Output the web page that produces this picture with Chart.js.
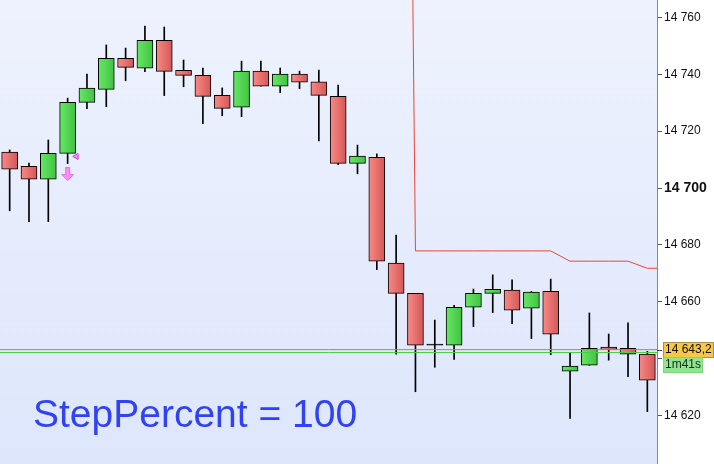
<!DOCTYPE html>
<html>
<head>
<meta charset="utf-8">
<title>StepPercent</title>
<script src="https://cdn.jsdelivr.net/npm/chart.js@4.4.1/dist/chart.umd.min.js"></script>
<style>
    html, body { margin: 0; padding: 0; background: #ffffff; }
    #wrap { width: 714px; height: 464px; }
</style>
</head>
<body>
<div id="wrap"><canvas id="chart" width="714" height="464"></canvas></div>
<script>
// OHLC per candle
const opens  = [14712.6, 14707.6, 14703.1, 14712.2, 14730.1, 14734.7, 14745.6, 14742.1, 14751.9, 14741.4,
                14739.6, 14732.6, 14728.4, 14741.1, 14735.8, 14740.1, 14737.3, 14732.2, 14708.7, 14710.8,
                14673.6, 14663.0, 14644.8, 14644.8, 14658.1, 14663.0, 14664.1, 14657.8, 14663.7, 14635.6,
                14637.7, 14644.1, 14643.7, 14641.6];
const highs  = [14713.4, 14708.8, 14716.9, 14731.6, 14740.1, 14750.3, 14749.2, 14756.9, 14756.6, 14745.0,
                14742.2, 14735.2, 14744.6, 14744.6, 14742.2, 14741.1, 14741.5, 14736.2, 14715.1, 14712.0,
                14683.5, 14663.0, 14653.6, 14658.8, 14664.5, 14669.5, 14667.7, 14663.7, 14668.0, 14642.2,
                14656.1, 14648.7, 14652.6, 14642.6];
const lows   = [14692.0, 14688.2, 14688.2, 14708.6, 14727.9, 14728.6, 14737.7, 14740.9, 14732.5, 14735.6,
                14722.6, 14725.4, 14725.1, 14735.8, 14733.5, 14734.9, 14716.6, 14708.2, 14705.0, 14671.3,
                14641.6, 14628.4, 14637.0, 14639.8, 14651.3, 14656.2, 14652.3, 14647.1, 14641.4, 14619.0,
                14637.7, 14639.5, 14633.7, 14621.4];
const closes = [14706.6, 14703.1, 14712.2, 14730.1, 14735.1, 14745.6, 14742.4, 14751.9, 14741.0, 14739.6,
                14732.2, 14728.0, 14741.1, 14735.8, 14740.1, 14737.2, 14732.6, 14708.7, 14711.2, 14674.3,
                14663.0, 14644.8, 14644.8, 14658.1, 14663.0, 14664.4, 14657.1, 14663.4, 14648.6, 14637.4,
                14643.7, 14643.3, 14641.6, 14632.5];

// trailing stop level (off the top of the chart before candle 21)
const stopLevels = [null, null, null, null, null, null, null, null, null, null,
                    null, null, null, null, null, null, null, null, null, null,
                    15330, 14677.9, 14677.9, 14677.9, 14677.9, 14677.9, 14677.9, 14677.9, 14677.9, 14674.3,
                    14674.3, 14674.3, 14674.3, 14671.8];

const yTicks = [14620, 14640, 14660, 14680, 14700, 14720, 14740, 14760];
const yMin = 14603, yMax = 14766.1;
const lastPrice = 14643.2;
const askPrice = 14642.2;
const countdown = '1m41s';
const arrowSignal = [{x: 3, y: 14704.9}];
const triangleSignal = [{x: 3.45, y: 14711.1}];
const caption = 'StepPercent = 100';

const fmt = v => String(v).replace(/\B(?=(\d{3})+(?!\d))/g, ' ');
const n = opens.length;
const xMin = -0.5, xMax = n - 0.5;

// pink down arrow used as point style
const arrowImg = document.createElement('canvas');
arrowImg.width = 13; arrowImg.height = 14;
(function() {
    const a = arrowImg.getContext('2d');
    a.beginPath();
    a.moveTo(4.5, 0.5); a.lineTo(8.5, 0.5); a.lineTo(8.5, 7.5); a.lineTo(12.5, 7.5);
    a.lineTo(6.5, 13.5); a.lineTo(0.5, 7.5); a.lineTo(4.5, 7.5); a.closePath();
    a.fillStyle = '#ff8cff'; a.fill();
    a.strokeStyle = '#e070e6'; a.lineWidth = 1; a.stroke();
})();

function bodyColor(c) {
    const i = c.dataIndex;
    if (opens[i] === closes[i]) return '#000000';
    const up = closes[i] > opens[i];
    const xs = c.chart.scales.x;
    const px = xs ? xs.getPixelForValue(i) : NaN;
    if (!isFinite(px)) return up ? '#55d655' : '#ec7272';
    const g = c.chart.ctx.createLinearGradient(px - 8, 0, px + 8, 0);
    if (up) { g.addColorStop(0, '#66e766'); g.addColorStop(1, '#41c241'); }
    else { g.addColorStop(0, '#f88a86'); g.addColorStop(1, '#d45757'); }
    return g;
}

const plotBg = {
    id: 'plotBg',
    beforeDraw(chart) {
        const {ctx, chartArea: a} = chart;
        const g = ctx.createLinearGradient(0, a.top, 0, a.bottom);
        g.addColorStop(0, '#eef2fe');
        g.addColorStop(1, '#dde6fb');
        ctx.save();
        ctx.fillStyle = g;
        ctx.fillRect(a.left, a.top, a.right - a.left, a.bottom - a.top);
        ctx.restore();
    }
};

const labels = {
    id: 'labels',
    afterDraw(chart) {
        const {ctx, chartArea: a} = chart;
        const y = chart.scales.y.getPixelForValue(lastPrice);
        const bx = a.right + 6;
        ctx.save();
        // tick for the price box
        ctx.strokeStyle = '#444';
        ctx.lineWidth = 1;
        ctx.beginPath(); ctx.moveTo(a.right, Math.round(y) + 0.5); ctx.lineTo(a.right + 5, Math.round(y) + 0.5); ctx.stroke();
        // last price box
        ctx.fillStyle = '#f8c845';
        ctx.fillRect(bx, y - 7.5, 50, 15);
        ctx.strokeStyle = '#a8923e';
        ctx.strokeRect(bx + 0.5, Math.round(y - 7.5) + 0.5, 50, 15);
        ctx.fillStyle = '#111';
        ctx.font = '12px "Liberation Sans", Arial, sans-serif';
        ctx.textBaseline = 'middle';
        ctx.fillText(fmt(Math.floor(lastPrice)) + ',' + Math.round((lastPrice % 1) * 10), bx + 2, y + 0.5);
        // countdown box
        ctx.fillStyle = '#90e690';
        ctx.fillRect(bx, y + 7.5, 39, 15);
        ctx.strokeStyle = '#7bd87b';
        ctx.strokeRect(bx + 0.5, Math.round(y + 7.5) + 0.5, 39, 15);
        ctx.fillStyle = '#1a2a1a';
        ctx.fillText(countdown, bx + 2, y + 15.5);
        // caption
        ctx.fillStyle = '#3142f0';
        ctx.font = '39px "Liberation Sans", Arial, sans-serif';
        ctx.textBaseline = 'alphabetic';
        ctx.fillText(caption, a.left + 33, a.bottom - 37);
        ctx.restore();
    }
};

const ctx = document.getElementById('chart').getContext('2d');
new Chart(ctx, {
    type: 'bar',
    data: {
        datasets: [
            {
                type: 'line',
                label: 'bid',
                data: [{x: xMin, y: lastPrice}, {x: xMax, y: lastPrice}],
                borderColor: '#e26a6a',
                borderWidth: 1,
                pointRadius: 0,
                order: 1
            },
            {
                type: 'line',
                label: 'ask',
                data: [{x: xMin, y: askPrice}, {x: xMax, y: askPrice}],
                borderColor: '#4ccc4c',
                borderWidth: 1,
                pointRadius: 0,
                order: 1
            },
            {
                type: 'line',
                label: 'stop',
                data: stopLevels.map((v, i) => ({x: i, y: v})).concat([{x: n, y: stopLevels[n - 1]}]),
                borderColor: '#ee4433',
                borderWidth: 1,
                pointRadius: 0,
                tension: 0,
                spanGaps: false,
                order: 1
            },
            {
                type: 'line',
                label: 'arrow',
                data: arrowSignal,
                showLine: false,
                pointStyle: arrowImg,
                order: 0
            },
            {
                type: 'line',
                label: 'triangle',
                data: triangleSignal,
                showLine: false,
                pointStyle: 'triangle',
                rotation: 270,
                pointRadius: 3.5,
                backgroundColor: '#ff8cff',
                borderColor: '#cc44cc',
                borderWidth: 1,
                order: 0
            },
            {
                label: 'body',
                data: opens.map((o, i) => ({x: i, y: [o, closes[i]]})),
                backgroundColor: bodyColor,
                borderColor: '#000000',
                borderWidth: 1,
                borderSkipped: false,
                barThickness: 16,
                minBarLength: 1,
                grouped: false,
                order: 2
            },
            {
                label: 'wick',
                data: lows.map((l, i) => ({x: i, y: [l, highs[i]]})),
                backgroundColor: '#000000',
                borderWidth: 0,
                barThickness: 1,
                grouped: false,
                order: 3
            }
        ]
    },
    options: {
        responsive: false,
        animation: false,
        devicePixelRatio: 1,
        layout: { padding: 0, autoPadding: false },
        plugins: {
            legend: { display: false },
            tooltip: { enabled: false },
            title: { display: false }
        },
        scales: {
            x: {
                type: 'linear',
                min: xMin,
                max: xMax,
                offset: false,
                display: false
            },
            y: {
                position: 'right',
                min: yMin,
                max: yMax,
                afterFit(scale) {
                    scale.width = 57;
                    scale.paddingTop = 0;
                    scale.paddingBottom = 0;
                },
                afterBuildTicks(scale) {
                    scale.ticks = yTicks.map(v => ({value: v}));
                },
                border: { display: true, color: '#7d8a98', width: 1 },
                grid: {
                    drawOnChartArea: false,
                    drawTicks: true,
                    tickLength: 5,
                    color: '#555'
                },
                ticks: {
                    padding: 2,
                    color: '#111',
                    font: c => (c.tick && c.tick.value === 14700)
                        ? {family: '"Liberation Sans", Arial, sans-serif', size: 14, weight: 'bold'}
                        : {family: '"Liberation Sans", Arial, sans-serif', size: 12},
                    callback: v => fmt(v)
                }
            }
        }
    },
    plugins: [plotBg, labels]
});
</script>
</body>
</html>
